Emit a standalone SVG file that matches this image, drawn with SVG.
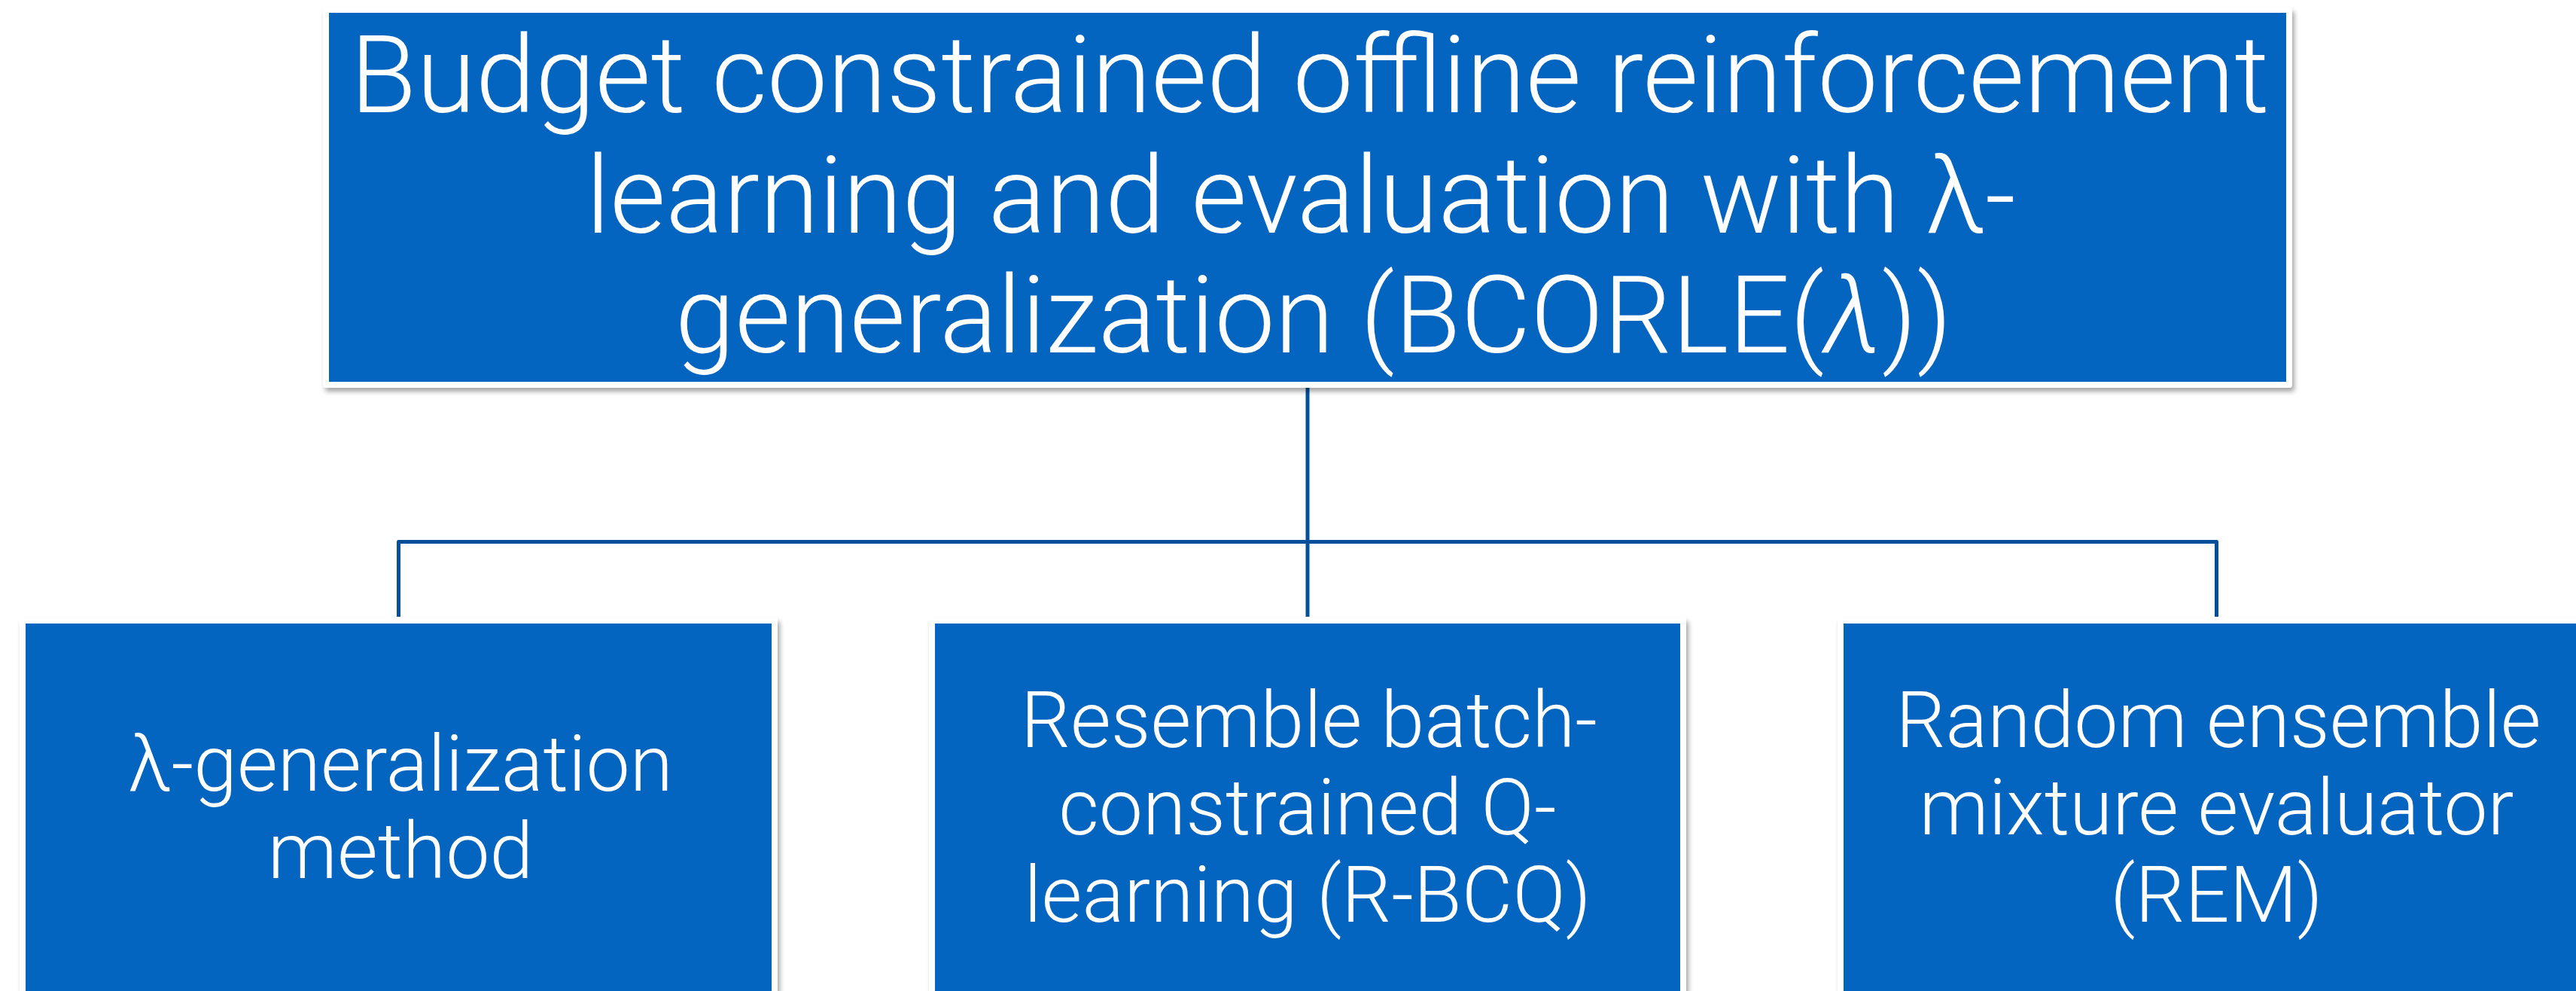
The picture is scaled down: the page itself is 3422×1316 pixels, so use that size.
<svg xmlns="http://www.w3.org/2000/svg" width="3422" height="1316" viewBox="0 0 3422 1316">
<defs>
<filter id="sh" x="-5%" y="-5%" width="110%" height="115%">
<feDropShadow dx="3" dy="5" stdDeviation="3" flood-color="#000" flood-opacity="0.35"/>
</filter>
<style>
.frame{fill:#ffffff;filter:url(#sh)}
.box{fill:#0465C0}
.t{fill:#ffffff;font-family:Roboto,"Helvetica Neue","Liberation Sans",sans-serif;font-weight:300;text-anchor:middle}
.big{font-size:143px}
.small{font-size:104px}
.conn{fill:none;stroke:#02509C;stroke-width:5;stroke-linejoin:round}
</style>
</defs>
<rect width="3422" height="1316" fill="#ffffff"/>
<g id="connectors">
<path class="conn" d="M1737,515 V819"/>
<path class="conn" d="M529.5,819 V719.5 H2944.5 V819"/>
</g>
<g id="root">
<rect class="frame" x="429" y="10" width="2616" height="505" rx="4"/>
<rect class="box" x="437" y="17" width="2600" height="490"/>
<text class="t big" x="1740" y="149">Budget constrained offline reinforcement</text>
<text class="t big" x="2678" y="309" text-anchor="end" style="text-anchor:end">learning and evaluation with λ-</text>
<text class="t big" x="1745" y="468">generalization (BCORLE(<tspan font-style="italic">λ</tspan>))</text>
</g>
<g id="lambda">
<rect class="frame" x="26" y="820" width="1007" height="520" rx="4"/>
<rect class="box" x="34" y="828" width="991" height="520"/>
<text class="t small" x="532" y="1050">λ-generalization</text>
<text class="t small" x="532" y="1166">method</text>
</g>
<g id="rbcq">
<rect class="frame" x="1234" y="820" width="1006" height="520" rx="4"/>
<rect class="box" x="1242" y="828" width="990" height="520"/>
<text class="t small" x="1739" y="992">Resemble batch-</text>
<text class="t small" x="1737" y="1108">constrained Q-</text>
<text class="t small" x="1737" y="1224">learning (R-BCQ)</text>
</g>
<g id="rem">
<rect class="frame" x="2441" y="820" width="1006" height="520" rx="4"/>
<rect class="box" x="2449" y="828" width="990" height="520"/>
<text class="t small" x="2947" y="992">Random ensemble</text>
<text class="t small" x="2944.5" y="1108">mixture evaluator</text>
<text class="t small" x="2944.5" y="1224">(REM)</text>
</g>
</svg>
